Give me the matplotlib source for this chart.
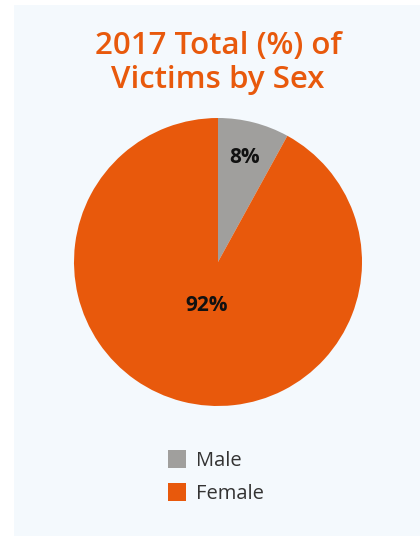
import numpy as np
import matplotlib.pyplot as plt
from matplotlib.patches import Rectangle, Patch

labels = ["Male", "Female"]
values = [8, 92]
colors = ["#a09f9d", "#e8590c"]

fig = plt.figure(figsize=(4.2, 5.36), dpi=100)
fig.patch.set_facecolor("white")
fig.add_artist(Rectangle((14 / 420, 0), 1, 531 / 536, transform=fig.transFigure,
                         facecolor="#f4f9fd", edgecolor="none", zorder=0))

fig.text(218 / 420, 1 - 63 / 536, "2017 Total (%) of\nVictims by Sex", ha="center", va="center",
         fontsize=22.5, color="#e8590c", fontweight="semibold", family="Open Sans",
         linespacing=1.15)

ax = fig.add_axes([74 / 420, 130 / 536, 288 / 420, 288 / 536])
wedges, _ = ax.pie(values, colors=colors, startangle=90, counterclock=False,
                   wedgeprops=dict(linewidth=0))
ax.set_xlim(-1, 1)
ax.set_ylim(-1, 1)
ax.set_aspect("equal")

# percent labels, placed along each wedge's middle angle
dists = [0.75, 0.31]
for w, v, d in zip(wedges, values, dists):
    ang = np.deg2rad((w.theta1 + w.theta2) / 2)
    ax.text(d * np.cos(ang), d * np.sin(ang), f"{v}%", ha="center", va="center",
            fontsize=15, fontweight="bold", color="#111111", family="Open Sans")

handles = [Patch(facecolor=c, edgecolor="none", label=l) for c, l in zip(colors, labels)]
fig.legend(handles=handles, loc="center", bbox_to_anchor=(216 / 420, 1 - 477 / 536),
           frameon=False, handlelength=0.9, handleheight=1.0,
           handletextpad=0.5, labelspacing=0.6, labelcolor="#333333",
           prop={"family": "Open Sans", "size": 14.5})

fig.savefig("out.png", dpi=100)
